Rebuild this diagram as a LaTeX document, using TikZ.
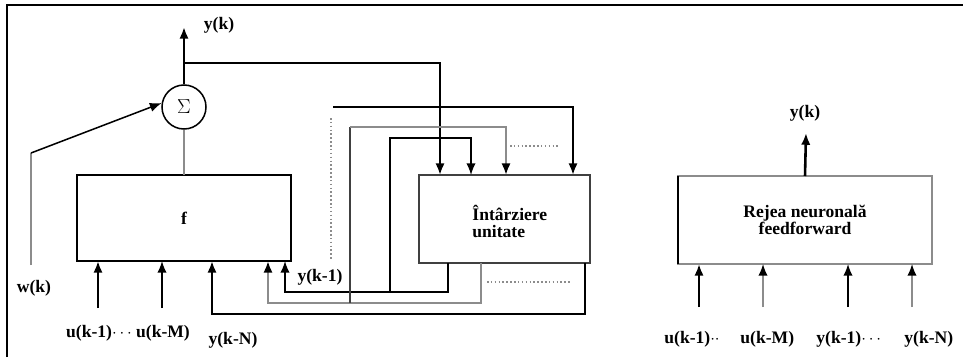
\documentclass[tikz,border=0pt]{standalone}
\usepackage{fontspec}
\setmainfont{Liberation Serif}
\usetikzlibrary{arrows.meta,positioning}

\begin{document}
\begin{tikzpicture}[x=0.03cm,y=-0.03cm,
  >={Latex[length=10pt,width=8pt]},
  every node/.style={font=\fontsize{15}{14.5}\selectfont\bfseries, inner sep=1pt},
  blk/.style={draw, line width=1.6pt, outer sep=0pt, inner sep=0pt},
  thk/.style={line width=2.2pt},
  thn/.style={line width=1.3pt},
  gry/.style={draw=black!45},
  gtip/.style={-{Latex[length=10pt,width=8pt,color=black]}}]
\useasboundingbox (0,0) rectangle (963,357);
\draw[line width=1.2pt] (7,357) -- (7,5) -- (963,5);

% blocks
\node[blk, minimum width=6.42cm, minimum height=2.58cm] (f) at (184,218) {f};
\node[blk, draw=black!75, minimum width=5.13cm, minimum height=2.64cm] (delay) at (504.5,219) {};
\node[anchor=west, align=left] (delaylab) at (471,221) {Întârziere\\unitate};
\node[blk, draw=black!45, minimum width=7.62cm, minimum height=2.64cm, align=center] (net) at (805,220) {Rejea neuronală\\feedforward};
\draw[line width=1.6pt] (net.north west) -- (net.south west);
\node[circle, draw, thn, minimum size=1.32cm, inner sep=0pt, font=\fontsize{18}{18}\selectfont] (sum) at (184,107) {$\Sigma$};

% sum output
\coordinate (yk) at (184,27);
\coordinate (tap) at (184,63);
\coordinate (d1) at (440,175);
\draw[->, thk] (sum.north) -- (yk);
\node (yklab) at (219,25) {y(k)};
\draw[gry, thk] (f.north) -- (sum.south);
\draw[->, thk] (tap) -| (d1);

% w(k)
\coordinate (wk) at (31,265);
\coordinate (wbend) at (31,153);
\draw[gry, thk] (wk) -- (wbend);
\draw[->, thn] (wbend) -- (sum.170);
\node (wklab) at (34,288) {w(k)};

% inputs of f
\coordinate (u1) at (98,308);
\coordinate (uM) at (162,308);
\draw[->, thk] (u1) -- (u1 |- f.south);
\draw[->, thn] (uM) -- (uM |- f.south);
\node (ulab) at (128,333) {u(k-1)$\cdots$ u(k-M)};

% delay outputs back to f
\coordinate (dN) at (585,263);
\coordinate (fN) at (212,261);
\coordinate (d2) at (481,263);
\coordinate (f2) at (268,261);
\coordinate (d3) at (448,263);
\coordinate (f3) at (285,261);
\draw[->, thk] (dN) -- ++(0,51) -| (fN);
\draw[gry, thk, gtip] (d2) -- ++(0,40) -| (f2);
\draw[->, thn] (d3) -- ++(0,29) -| (f3);
\node (yNlab) at (233,340) {y(k-N)};
\node (y1lab) at (320,277) {y(k-1)};
\draw[gry, thn, dotted] (487,282) -- (570,282);

% lines into delay
\coordinate (a1) at (350,303);
\coordinate (a2) at (350,127);
\coordinate (d4) at (506,175);
\coordinate (b1) at (390,292);
\coordinate (b2) at (390,138);
\coordinate (d5) at (471,175);
\coordinate (c1) at (333,107);
\coordinate (d6) at (573,175);
\draw[line width=2.4pt, black!75] (a1) -- (a2);
\draw[gry, thk, gtip] (a2) -| (d4);
\draw[->, thn] (b1) -- (b2) -| (d5);
\draw[->, thk] (c1) -| (d6);
\draw[gry, thn, dotted] (331,118) -- (331,260);
\draw[gry, thn, dotted] (510,146) -- (560,146);

% feedforward network
\coordinate (ykr) at (806,133);
\draw[->, thk] (net.north) -- (ykr);
\node (ykrlab) at (805,113) {y(k)};
\coordinate (in1) at (699,307);
\coordinate (in2) at (763,307);
\coordinate (in3) at (848,307);
\coordinate (in4) at (912,307);
\draw[->, thk] (in1) -- (in1 |- net.south);
\draw[gry, thn, gtip] (in2) -- (in2 |- net.south);
\draw[->, thn] (in3) -- (in3 |- net.south);
\draw[gry, thn, gtip] (in4) -- (in4 |- net.south);
\node[anchor=west] (r1) at (663,339) {u(k-1)$\cdot\cdot$};
\node[anchor=west] (r2) at (739,339) {u(k-M)};
\node[anchor=west] (r3) at (815,339) {y(k-1)$\cdots$};
\node[anchor=west] (r4) at (903,339) {y(k-N)};
\end{tikzpicture}
\end{document}
